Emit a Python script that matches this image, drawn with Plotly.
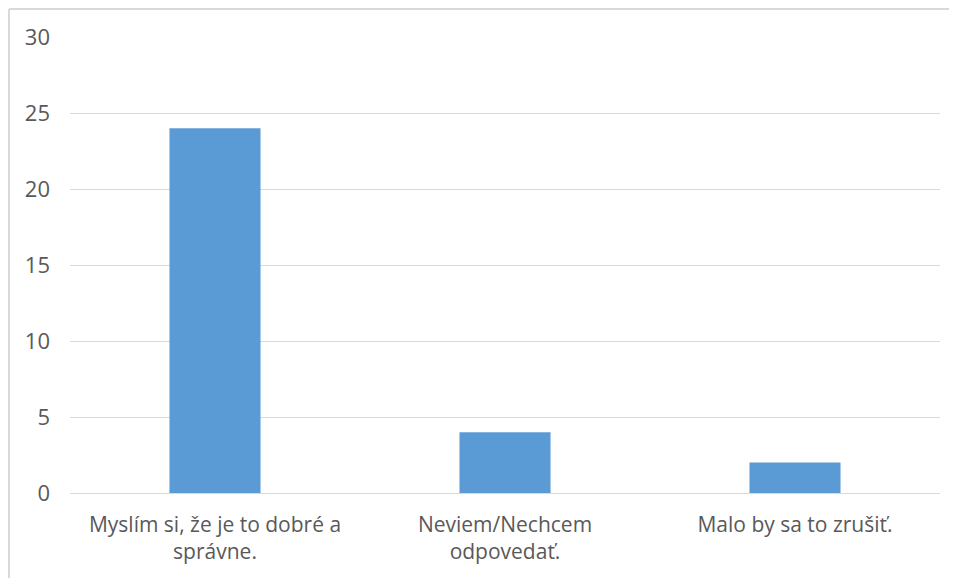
import plotly.graph_objects as go

categories = ["Myslím si, že je to dobré a<br>správne.", "Neviem/Nechcem<br>odpovedať.", "Malo by sa to zrušiť."]
values = [24, 4, 2]
y_ticks = [0, 5, 10, 15, 20, 25, 30]

fig = go.Figure()
fig.add_trace(go.Bar(x=categories, y=values, marker_color="#5B9BD5",
                     marker_line_width=0, hoverinfo="skip"))

# chart border (only left and top visible in the crop)
fig.add_shape(type="line", xref="paper", yref="paper", x0=-0.0701, x1=-0.0701, y0=-0.3, y1=1.0614,
              line=dict(color="#D9D9D9", width=2))
fig.add_shape(type="line", xref="paper", yref="paper", x0=-0.0701, x1=1.05, y0=1.0614, y1=1.0614,
              line=dict(color="#D9D9D9", width=2))

fig.update_layout(
    width=957, height=578,
    margin=dict(l=62, r=25, t=29, b=93),
    paper_bgcolor="white", plot_bgcolor="white",
    bargap=0.686,
    showlegend=False,
    font=dict(family="Open Sans", size=21, color="#595959"),
    xaxis=dict(showgrid=False, showline=False, ticks="", automargin=False,
               ticklabelstandoff=17, tickfont=dict(size=21)),
    yaxis=dict(range=[0, 30], tickvals=y_ticks, showgrid=True, gridcolor="#D9D9D9",
               gridwidth=1, zeroline=True, zerolinecolor="#D9D9D9", zerolinewidth=1,
               ticks="", ticklabelstandoff=19, automargin=False, tickfont=dict(size=22)),
)

fig.write_html("out.html")
